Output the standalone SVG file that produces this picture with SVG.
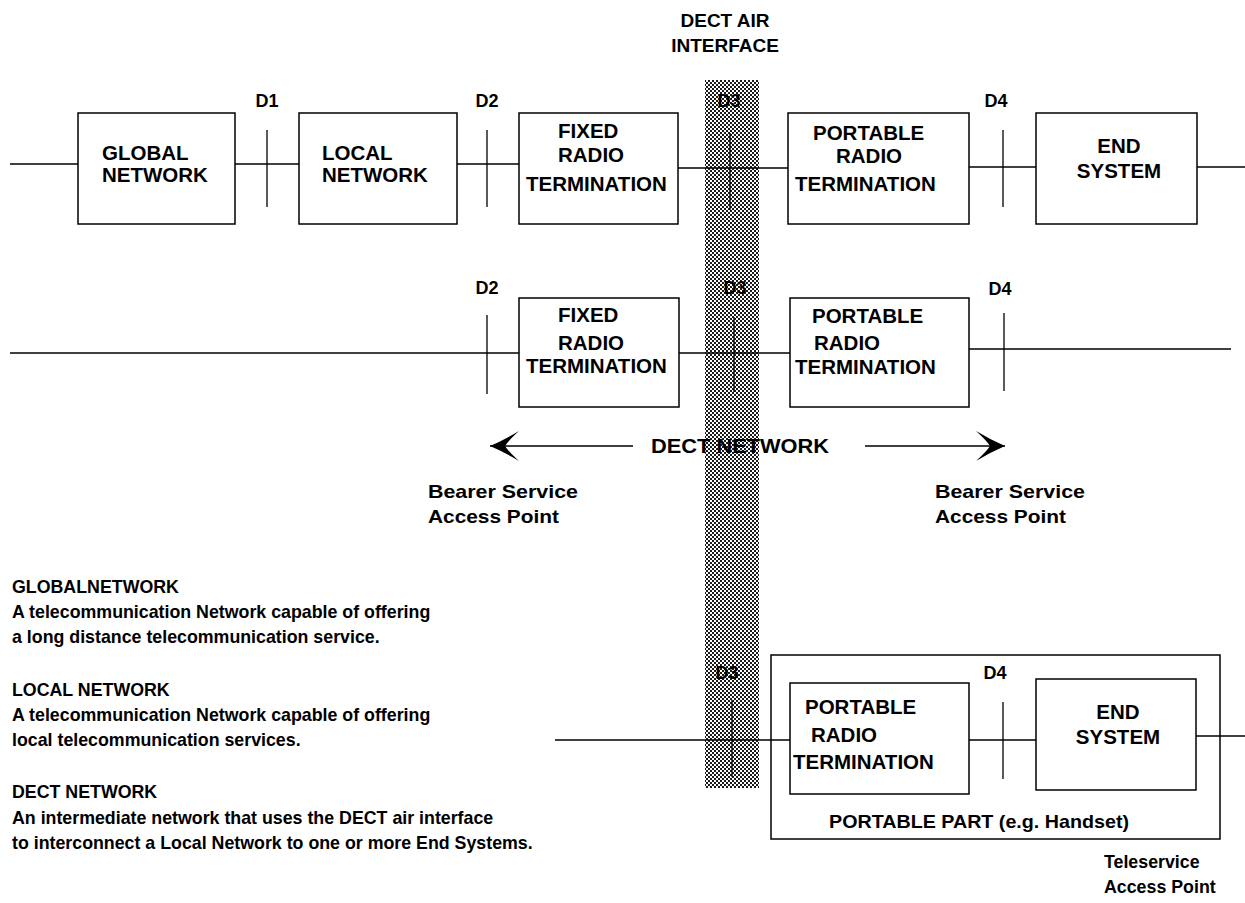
<svg xmlns="http://www.w3.org/2000/svg" width="1245" height="903" viewBox="0 0 1245 903">
<defs>
<pattern id="hatch" width="4" height="4" patternUnits="userSpaceOnUse">
<rect width="4" height="4" fill="#fff"/>
<rect width="2" height="2" fill="#1a1a1a"/>
<rect x="2" y="2" width="2" height="2" fill="#1a1a1a"/>
</pattern>
<marker id="arr" viewBox="-30 -16 32 32" refX="0" refY="0" markerWidth="32" markerHeight="32" markerUnits="userSpaceOnUse" orient="auto">
<path d="M0,0 Q-14,-6 -29,-15 Q-18,-5 -15,0 Q-18,5 -29,15 Q-14,6 0,0 Z" fill="#000"/>
</marker>
<style>
.box{fill:none;stroke:#000;stroke-width:1.5}
.ln{stroke:#000;stroke-width:1.3;fill:none}
text{font-family:"Liberation Sans",Arial,sans-serif;font-weight:bold;fill:#000}
.lbl{font-size:20.5px}
.d{font-size:18px;text-anchor:middle}
.t{font-size:17.8px}
.mid{text-anchor:middle}
</style>
</defs>
<rect id="air-interface-bar" x="705" y="80" width="54" height="708" fill="url(#hatch)"/>
<g id="air-interface-label">
<text class="mid" x="725" y="27" style="font-size:19px">DECT AIR</text>
<text class="mid" x="725" y="52" style="font-size:19px">INTERFACE</text>
</g>
<g id="connectors">
<line class="ln" x1="10" y1="164" x2="78" y2="164"/>
<line class="ln" x1="235" y1="164" x2="299" y2="164"/>
<line class="ln" x1="457" y1="164" x2="519" y2="164"/>
<line class="ln" x1="678" y1="168" x2="788" y2="168"/>
<line class="ln" x1="969" y1="167" x2="1036" y2="167"/>
<line class="ln" x1="1197" y1="167" x2="1245" y2="167"/>
<line class="ln" x1="267" y1="130" x2="267" y2="207"/>
<line class="ln" x1="487" y1="130" x2="487" y2="207"/>
<line class="ln" x1="730" y1="133" x2="730" y2="210"/>
<line class="ln" x1="1003" y1="130" x2="1003" y2="207"/>
<line class="ln" x1="10" y1="353" x2="519" y2="353"/>
<line class="ln" x1="679" y1="353" x2="790" y2="353"/>
<line class="ln" x1="969" y1="349" x2="1231" y2="349"/>
<line class="ln" x1="487" y1="315" x2="487" y2="394"/>
<line class="ln" x1="734" y1="317" x2="734" y2="392"/>
<line class="ln" x1="1004" y1="313" x2="1004" y2="391"/>
<line class="ln" x1="555" y1="740" x2="790" y2="740"/>
<line class="ln" x1="969" y1="740" x2="1036" y2="740"/>
<line class="ln" x1="1196" y1="736" x2="1245" y2="736"/>
<line class="ln" x1="732" y1="700" x2="732" y2="777"/>
<line class="ln" x1="1003" y1="702" x2="1003" y2="779"/>
<line class="ln" x1="633" y1="446" x2="490" y2="446" marker-end="url(#arr)"/>
<line class="ln" x1="865" y1="446" x2="1005" y2="446" marker-end="url(#arr)"/>
</g>
<g id="ref-points">
<text class="d" x="267" y="107">D1</text>
<text class="d" x="487" y="107">D2</text>
<text class="d" x="729" y="107">D3</text>
<text class="d" x="996" y="107">D4</text>
<text class="d" x="487" y="294">D2</text>
<text class="d" x="735" y="294">D3</text>
<text class="d" x="1000" y="295">D4</text>
<text class="d" x="727" y="679">D3</text>
<text class="d" x="995" y="679">D4</text>
</g>
<g id="global-network">
<rect class="box" x="78" y="113" width="157" height="111"/>
<text class="lbl" x="102" y="160">GLOBAL</text>
<text class="lbl" x="102" y="182">NETWORK</text>
</g>
<g id="local-network">
<rect class="box" x="299" y="113" width="158" height="111"/>
<text class="lbl" x="322" y="160">LOCAL</text>
<text class="lbl" x="322" y="182">NETWORK</text>
</g>
<g id="frt-1">
<rect class="box" x="519" y="113" width="159" height="111"/>
<text class="lbl" x="558" y="138">FIXED</text>
<text class="lbl" x="558" y="162">RADIO</text>
<text class="lbl" x="526" y="191">TERMINATION</text>
</g>
<g id="prt-1">
<rect class="box" x="788" y="113" width="181" height="111"/>
<text class="lbl" x="813" y="140">PORTABLE</text>
<text class="lbl" x="836" y="163">RADIO</text>
<text class="lbl" x="795" y="191">TERMINATION</text>
</g>
<g id="end-system-1">
<rect class="box" x="1036" y="113" width="161" height="111"/>
<text class="lbl mid" x="1119" y="153">END</text>
<text class="lbl mid" x="1119" y="178">SYSTEM</text>
</g>
<g id="frt-2">
<rect class="box" x="519" y="298" width="160" height="109"/>
<text class="lbl" x="558" y="322">FIXED</text>
<text class="lbl" x="558" y="350">RADIO</text>
<text class="lbl" x="526" y="373">TERMINATION</text>
</g>
<g id="prt-2">
<rect class="box" x="790" y="298" width="179" height="109"/>
<text class="lbl" x="812" y="323">PORTABLE</text>
<text class="lbl" x="814" y="350">RADIO</text>
<text class="lbl" x="795" y="374">TERMINATION</text>
</g>
<g id="dect-network-label">
<text class="lbl" x="651" y="453" textLength="178" lengthAdjust="spacingAndGlyphs">DECT NETWORK</text>
</g>
<g id="bsap-left">
<text class="t" x="428" y="498" textLength="150" lengthAdjust="spacingAndGlyphs">Bearer Service</text>
<text class="t" x="428" y="523" textLength="131" lengthAdjust="spacingAndGlyphs">Access Point</text>
</g>
<g id="bsap-right">
<text class="t" x="935" y="498" textLength="150" lengthAdjust="spacingAndGlyphs">Bearer Service</text>
<text class="t" x="935" y="523" textLength="131" lengthAdjust="spacingAndGlyphs">Access Point</text>
</g>
<g id="definitions">
<text class="t" x="12" y="593">GLOBALNETWORK</text>
<text class="t" x="12" y="618">A telecommunication Network capable of offering</text>
<text class="t" x="12" y="643">a long distance telecommunication service.</text>
<text class="t" x="12" y="696">LOCAL NETWORK</text>
<text class="t" x="12" y="721">A telecommunication Network capable of offering</text>
<text class="t" x="12" y="746">local telecommunication services.</text>
<text class="t" x="12" y="798">DECT NETWORK</text>
<text class="t" x="12" y="824">An intermediate  network that uses the DECT air interface</text>
<text class="t" x="12" y="849">to interconnect a Local Network to one or more End Systems.</text>
</g>
<g id="portable-part">
<rect class="box" x="771" y="655" width="449" height="184"/>
<text class="t" x="829" y="828" textLength="300" lengthAdjust="spacingAndGlyphs">PORTABLE PART (e.g. Handset)</text>
</g>
<g id="prt-3">
<rect class="box" x="790" y="683" width="179" height="111"/>
<text class="lbl" x="805" y="714">PORTABLE</text>
<text class="lbl" x="811" y="742">RADIO</text>
<text class="lbl" x="793" y="769">TERMINATION</text>
</g>
<g id="end-system-3">
<rect class="box" x="1036" y="679" width="160" height="111"/>
<text class="lbl mid" x="1118" y="719">END</text>
<text class="lbl mid" x="1118" y="744">SYSTEM</text>
</g>
<g id="tsap">
<text class="t" x="1104" y="868">Teleservice</text>
<text class="t" x="1104" y="893">Access Point</text>
</g>
</svg>
